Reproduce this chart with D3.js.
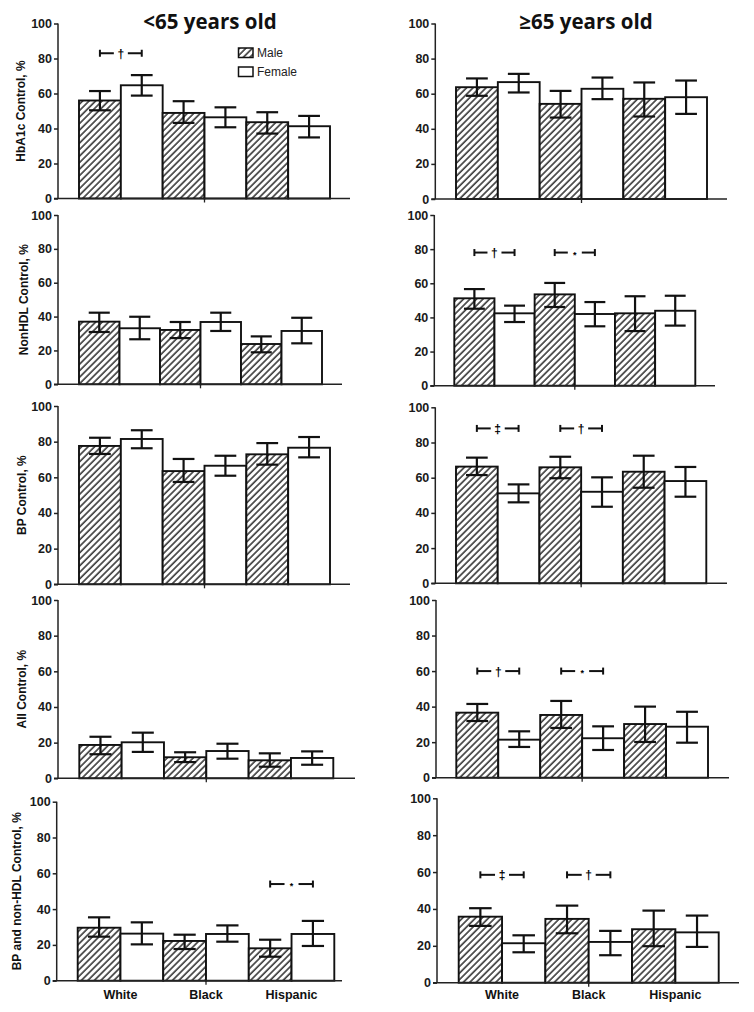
<!DOCTYPE html>
<html>
<head>
<meta charset="utf-8">
<script src="https://cdn.jsdelivr.net/npm/d3@7"></script>
<style>
  html, body { margin: 0; padding: 0; background: #fff; }
  svg { display: block; }
</style>
</head>
<body>
<svg id="chart" width="754" height="1012"></svg>
<script>
// ---------- DATA ----------
const groups = ["White", "Black", "Hispanic"];
const sexes = ["Male", "Female"];
const ageTitles = ["<65 years old", "≥65 years old"];
const measures = ["HbA1c Control, %", "NonHDL Control, %", "BP Control, %", "All Control, %", "BP and non-HDL Control, %"];
const yTicks = [0, 20, 40, 60, 80, 100];

// bar order: White M, White F, Black M, Black F, Hispanic M, Hispanic F
const hba1cLt65Mean = [56, 64.7, 48.9, 46.4, 43.6, 41.3];
const hba1cLt65Low  = [50.4, 58.8, 43.2, 40.7, 37.1, 34.9];
const hba1cLt65High = [61.4, 70.5, 55.6, 52.1, 49.3, 47.2];

const hba1cGe65Mean = [63.7, 66.6, 54.2, 62.8, 57.1, 58];
const hba1cGe65Low  = [58.8, 60.7, 46.4, 56.9, 47, 48.5];
const hba1cGe65High = [68.7, 71.3, 61.6, 69.2, 66.4, 67.5];

const nonhdlLt65Mean = [37, 33.1, 32.1, 36.8, 23.8, 31.5];
const nonhdlLt65Low  = [30.9, 26.6, 27.3, 31.5, 18.9, 24.2];
const nonhdlLt65High = [42.3, 39.9, 36.8, 42.3, 28.3, 39.3];

const nonhdlGe65Mean = [51.2, 42.4, 53.5, 42, 42.4, 43.9];
const nonhdlGe65Low  = [45.1, 37.3, 46.1, 34.8, 32, 35.2];
const nonhdlGe65High = [56.6, 46.9, 60.2, 49, 52.4, 52.7];

const bpLt65Mean = [77.6, 81.5, 63.5, 66.5, 72.9, 76.6];
const bpLt65Low  = [73.1, 76.3, 57.4, 60.9, 67.1, 71.2];
const bpLt65High = [82.2, 86.4, 70.3, 72.1, 79.2, 82.6];

const bpGe65Mean = [66.3, 51.1, 65.9, 52, 63.4, 58.1];
const bpGe65Low  = [61.5, 46, 59.7, 43.5, 54.3, 49.2];
const bpGe65High = [71.4, 56.2, 71.9, 60.2, 72.5, 66.1];

const allLt65Mean = [18.7, 20.2, 11.8, 15.3, 10.1, 11.4];
const allLt65Low  = [13.5, 14.8, 9.1, 11, 6.5, 7.6];
const allLt65High = [23.3, 25.6, 14.6, 19.4, 14, 15.1];

const allGe65Mean = [36.6, 21.4, 35.3, 22.2, 30.2, 28.7];
const allGe65Low  = [31.9, 17.3, 28, 15.6, 20.1, 19.7];
const allGe65High = [41.5, 26.1, 43.2, 28.9, 40, 37.1];

const bpNonhdlLt65Mean = [29.6, 26.3, 22.2, 26.1, 18.1, 26.1];
const bpNonhdlLt65Low  = [24.6, 20.3, 17.7, 21.8, 13.4, 19.4];
const bpNonhdlLt65High = [35.4, 32.6, 25.7, 30.9, 22.9, 33.4];

const bpNonhdlGe65Mean = [35.8, 21.4, 34.6, 22.1, 29, 27.3];
const bpNonhdlGe65Low  = [30.8, 16.5, 26.8, 14.9, 19.8, 19.4];
const bpNonhdlGe65High = [40.4, 25.7, 41.8, 28.1, 39.1, 36.4];

// significance brackets: group, level (in %), symbol
const sigHbA1cLt65 = [["White", 83, "†"]];
const sigHbA1cGe65 = [];
const sigNonhdlLt65 = [];
const sigNonhdlGe65 = [["White", 78, "†"], ["Black", 78, "*"]];
const sigBpLt65 = [];
const sigBpGe65 = [["White", 88, "‡"], ["Black", 88, "†"]];
const sigAllLt65 = [];
const sigAllGe65 = [["White", 60, "†"], ["Black", 60, "*"]];
const sigBpNonhdlLt65 = [["Hispanic", 54, "*"]];
const sigBpNonhdlGe65 = [["White", 58.5, "‡"], ["Black", 58.5, "†"]];

const panelData = [
  [[hba1cLt65Mean, hba1cLt65Low, hba1cLt65High, sigHbA1cLt65], [hba1cGe65Mean, hba1cGe65Low, hba1cGe65High, sigHbA1cGe65]],
  [[nonhdlLt65Mean, nonhdlLt65Low, nonhdlLt65High, sigNonhdlLt65], [nonhdlGe65Mean, nonhdlGe65Low, nonhdlGe65High, sigNonhdlGe65]],
  [[bpLt65Mean, bpLt65Low, bpLt65High, sigBpLt65], [bpGe65Mean, bpGe65Low, bpGe65High, sigBpGe65]],
  [[allLt65Mean, allLt65Low, allLt65High, sigAllLt65], [allGe65Mean, allGe65Low, allGe65High, sigAllGe65]],
  [[bpNonhdlLt65Mean, bpNonhdlLt65Low, bpNonhdlLt65High, sigBpNonhdlLt65], [bpNonhdlGe65Mean, bpNonhdlGe65Low, bpNonhdlGe65High, sigBpNonhdlGe65]]
];

// ---------- LAYOUT ----------
// ax: y-axis x, top/bot: y of 100/0, b0/b1: bar extent, xe: x-axis end
const frames = [
  [{ax: 58, top: 23.5, bot: 198.5, b0: 79, b1: 330, xe: 350}, {ax: 435.3, top: 23.5, bot: 199, b0: 456, b1: 707, xe: 727}],
  [{ax: 58, top: 215, bot: 384.3, b0: 79, b1: 322, xe: 342}, {ax: 434.3, top: 215, bot: 385.7, b0: 454.3, b1: 695.3, xe: 715}],
  [{ax: 58, top: 406, bot: 584.3, b0: 79, b1: 330, xe: 350}, {ax: 435.3, top: 407.3, bot: 583.3, b0: 456, b1: 706.3, xe: 727}],
  [{ax: 58, top: 600, bot: 778.3, b0: 79.3, b1: 333.3, xe: 355}, {ax: 436, top: 600, bot: 777.7, b0: 456.3, b1: 708, xe: 729}],
  [{ax: 56.7, top: 801.7, bot: 980.7, b0: 77.7, b1: 334.3, xe: 342}, {ax: 437, top: 798.3, bot: 982.7, b0: 458.7, b1: 718.7, xe: 739}]
];
const yLabelX = [22, 25, 23, 23, 18];

const FONT = "'Liberation Sans', Arial, sans-serif";
const svg = d3.select("#chart");

const defs = svg.append("defs");
const pat = defs.append("pattern")
  .attr("id", "hatch")
  .attr("patternUnits", "userSpaceOnUse")
  .attr("width", 4.6).attr("height", 4.6)
  .attr("patternTransform", "rotate(45)");
pat.append("rect").attr("width", 4.6).attr("height", 4.6).attr("fill", "#fff");
pat.append("line").attr("x1", 1).attr("y1", 0).attr("x2", 1).attr("y2", 4.6)
  .attr("stroke", "#2a2a2a").attr("stroke-width", 1.5);

const fillFor = s => s === "Male" ? "url(#hatch)" : "#fff";

frames.forEach((row, ri) => {
  row.forEach((f, ci) => {
    const [mean, low, high, sig] = panelData[ri][ci];
    const g = svg.append("g");
    const y = d3.scaleLinear().domain([0, 100]).range([f.bot, f.top]);
    const x0 = d3.scaleBand().domain(groups).range([f.b0, f.b1]).padding(0);
    const x1 = d3.scaleBand().domain(sexes).range([0, x0.bandwidth()]).padding(0);

    const bars = [];
    groups.forEach((gr, gi) => sexes.forEach((s, si) => {
      const i = gi * 2 + si;
      bars.push({group: gr, sex: s, v: mean[i], lo: low[i], hi: high[i]});
    }));

    // bars
    g.selectAll("rect.bar").data(bars).enter().append("rect")
      .attr("class", "bar")
      .attr("x", d => x0(d.group) + x1(d.sex))
      .attr("width", x1.bandwidth())
      .attr("y", d => y(d.v))
      .attr("height", d => y(0) - y(d.v))
      .attr("fill", d => fillFor(d.sex))
      .attr("stroke", "#111").attr("stroke-width", 1.9);

    // error bars
    const cw = x1.bandwidth() * 0.26;
    const eb = g.selectAll("g.eb").data(bars).enter().append("g").attr("class", "eb")
      .attr("stroke", "#111").attr("stroke-width", 2.2);
    const cx = d => x0(d.group) + x1(d.sex) + x1.bandwidth() / 2;
    eb.append("line").attr("x1", cx).attr("x2", cx).attr("y1", d => y(d.lo)).attr("y2", d => y(d.hi));
    eb.append("line").attr("x1", d => cx(d) - cw).attr("x2", d => cx(d) + cw).attr("y1", d => y(d.hi)).attr("y2", d => y(d.hi));
    eb.append("line").attr("x1", d => cx(d) - cw).attr("x2", d => cx(d) + cw).attr("y1", d => y(d.lo)).attr("y2", d => y(d.lo));

    // y axis
    const yAxis = d3.axisLeft(y).tickValues(yTicks).tickSize(4).tickPadding(2).tickFormat(d3.format("d"));
    const ya = g.append("g").attr("transform", `translate(${f.ax},0)`).call(yAxis);
    ya.select(".domain").attr("stroke", "#222").attr("stroke-width", 1.5).attr("d", `M0,${f.top}V${f.bot}`);
    ya.selectAll(".tick line").attr("stroke", "#222").attr("stroke-width", 1.5);
    ya.selectAll(".tick text").attr("font-family", FONT).attr("font-size", 12.5).attr("font-weight", "bold").attr("fill", "#1a1a1a");

    // x axis line
    const xAxis = d3.axisBottom(x0).tickValues(["Black"]).tickSize(4).tickFormat(() => "");
    const xa = g.append("g").attr("transform", `translate(0,${f.bot})`).call(xAxis);
    xa.select(".domain").attr("stroke", "#222").attr("stroke-width", 1.5).attr("d", `M${f.ax - 4},0H${f.xe}`);
    xa.selectAll(".tick line").attr("stroke", "#222").attr("stroke-width", 1.3);

    // category labels on bottom row
    if (ri === frames.length - 1) {
      g.selectAll("text.cat").data(groups).enter().append("text")
        .attr("x", d => x0(d) + x0.bandwidth() / 2)
        .attr("y", 998.5)
        .attr("text-anchor", "middle")
        .attr("font-family", FONT).attr("font-size", 12.5).attr("font-weight", "bold").attr("fill", "#111")
        .text(d => d);
    }

    // y label (left column)
    if (ci === 0) {
      const my = (f.top + f.bot) / 2;
      g.append("text")
        .attr("transform", `translate(${yLabelX[ri]},${my}) rotate(-90)`)
        .attr("text-anchor", "middle").attr("dominant-baseline", "middle")
        .attr("font-family", FONT).attr("font-size", 12).attr("font-weight", "bold").attr("fill", "#111")
        .text(measures[ri]);
    }

    // significance brackets
    sig.forEach(([gr, lvl, sym]) => {
      const xa1 = x0(gr) + x1("Male") + x1.bandwidth() / 2;
      const xa2 = x0(gr) + x1("Female") + x1.bandwidth() / 2;
      const mid = (xa1 + xa2) / 2;
      const yy = y(lvl);
      const sg = g.append("g").attr("stroke", "#111").attr("stroke-width", 2);
      sg.append("line").attr("x1", xa1).attr("x2", mid - 7).attr("y1", yy).attr("y2", yy);
      sg.append("line").attr("x1", mid + 7).attr("x2", xa2).attr("y1", yy).attr("y2", yy);
      sg.append("line").attr("x1", xa1).attr("x2", xa1).attr("y1", yy - 3.5).attr("y2", yy + 3.5);
      sg.append("line").attr("x1", xa2).attr("x2", xa2).attr("y1", yy - 3.5).attr("y2", yy + 3.5);
      g.append("text").attr("x", mid).attr("y", yy + (sym === "*" ? 5 : 4.5))
        .attr("text-anchor", "middle")
        .attr("font-family", FONT).attr("font-size", sym === "*" ? 9 : 12).attr("font-weight", "bold").attr("fill", "#000")
        .text(sym);
    });

    // titles on top row
    if (ri === 0) {
      g.append("text")
        .attr("x", ci === 0 ? 210 : 586).attr("y", 28.5)
        .attr("text-anchor", "middle")
        .attr("font-family", "'Open Sans', sans-serif").attr("font-size", 20.5).attr("font-weight", "bold").attr("fill", "#111")
        .text(ageTitles[ci]);
    }

    // legend in top-left panel
    if (ri === 0 && ci === 0) {
      const lg = g.append("g");
      sexes.forEach((s, si) => {
        const yy = 48 + si * 19;
        lg.append("rect").attr("x", 238.5).attr("y", yy).attr("width", 14.5).attr("height", 9.5)
          .attr("fill", fillFor(s)).attr("stroke", "#111").attr("stroke-width", 1.5);
        lg.append("text").attr("x", 257).attr("y", yy + 9)
          .attr("font-family", FONT).attr("font-size", 12).attr("fill", "#222").text(s);
      });
    }
  });
});
</script>
</body>
</html>
